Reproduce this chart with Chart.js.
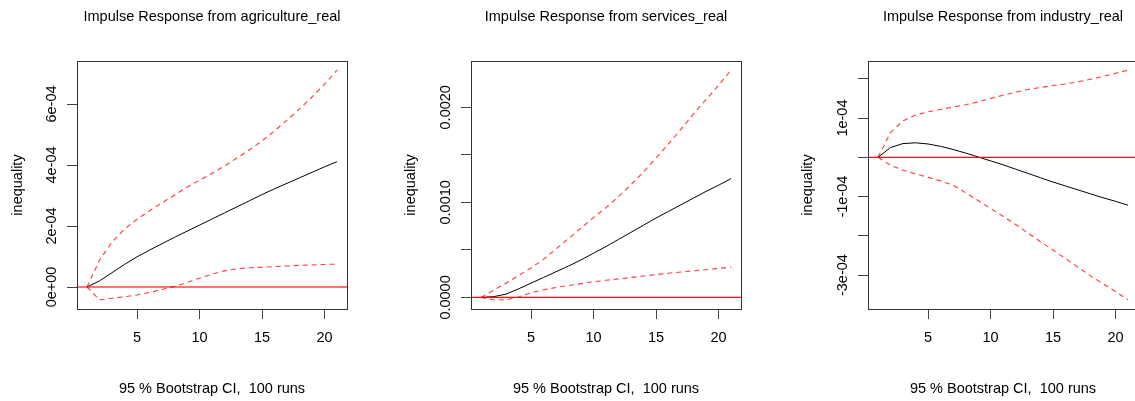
<!DOCTYPE html>
<html>
<head>
<meta charset="utf-8">
<script src="https://cdn.jsdelivr.net/npm/chart.js@4.4.1/dist/chart.umd.min.js"></script>
<style>
body { margin: 0; background: #fff; width: 1135px; height: 401px; overflow: hidden; position: relative; }
canvas { position: absolute; top: 0; }
</style>
</head>
<body>
<canvas id="agri" width="378" height="401" style="left:0px"></canvas>
<canvas id="serv" width="378" height="401" style="left:378px"></canvas>
<canvas id="ind" width="390" height="401" style="left:756px"></canvas>
<script>
var horizon = [1, 2, 3, 4, 5, 6, 7, 8, 9, 10, 11, 12, 13, 14, 15, 16, 17, 18, 19, 20, 21];
var xTicks = [5, 10, 15, 20];
var xRange = [0.2, 21.8];

var agriIrf = [0, 2.0e-5, 4.7e-5, 7.4e-5, 9.9e-5, 1.21e-4, 1.42e-4, 1.63e-4, 1.83e-4, 2.03e-4, 2.23e-4,
    2.43e-4, 2.63e-4, 2.83e-4, 3.03e-4, 3.22e-4, 3.40e-4, 3.58e-4, 3.76e-4, 3.94e-4, 4.11e-4];
var agriLower = [0, -4.2e-5, -3.7e-5, -3.2e-5, -2.6e-5, -1.8e-5, -8e-6, 2e-6, 1.5e-5, 2.9e-5, 4.2e-5,
    5.3e-5, 6.0e-5, 6.3e-5, 6.5e-5, 6.7e-5, 6.9e-5, 7.1e-5, 7.2e-5, 7.4e-5, 7.5e-5];
var agriUpper = [0, 8.8e-5, 1.47e-4, 1.90e-4, 2.22e-4, 2.50e-4, 2.76e-4, 3.02e-4, 3.27e-4, 3.50e-4, 3.73e-4,
    3.97e-4, 4.23e-4, 4.50e-4, 4.79e-4, 5.12e-4, 5.47e-4, 5.84e-4, 6.23e-4, 6.65e-4, 7.11e-4];
var agriTicks = [0, 0.0002, 0.0004, 0.0006];
var agriTickLabels = ['0e+00', '2e-04', '4e-04', '6e-04'];

var servIrf = [0, 8e-6, 3.5e-5, 9e-5, 1.5e-4, 2.1e-4, 2.7e-4, 3.3e-4, 3.95e-4, 4.65e-4, 5.35e-4,
    6.1e-4, 6.85e-4, 7.6e-4, 8.35e-4, 9.05e-4, 9.75e-4, 1.045e-3, 1.115e-3, 1.18e-3, 1.25e-3];
var servLower = [0, -2.5e-5, -2.5e-5, 5e-6, 5e-5, 8e-5, 1.05e-4, 1.25e-4, 1.45e-4, 1.65e-4, 1.8e-4,
    1.95e-4, 2.1e-4, 2.25e-4, 2.4e-4, 2.55e-4, 2.68e-4, 2.8e-4, 2.92e-4, 3.05e-4, 3.2e-4];
var servUpper = [0, 7.5e-5, 1.5e-4, 2.3e-4, 3.1e-4, 4.0e-4, 5.1e-4, 6.2e-4, 7.3e-4, 8.4e-4, 9.45e-4,
    1.06e-3, 1.185e-3, 1.32e-3, 1.465e-3, 1.615e-3, 1.77e-3, 1.93e-3, 2.08e-3, 2.23e-3, 2.39e-3];
var servTicks = [0, 0.0005, 0.001, 0.0015, 0.002];
var servTickLabels = ['0.0000', '', '0.0010', '', '0.0020'];

var indIrf = [0, 2.5e-5, 3.5e-5, 3.7e-5, 3.4e-5, 2.8e-5, 2.0e-5, 1.1e-5, 1e-6, -9e-6, -1.9e-5,
    -3.0e-5, -4.1e-5, -5.2e-5, -6.3e-5, -7.3e-5, -8.3e-5, -9.3e-5, -1.03e-4, -1.12e-4, -1.22e-4];
var indLower = [0, -2.0e-5, -3.3e-5, -4.2e-5, -5.1e-5, -6.0e-5, -7.1e-5, -9.0e-5, -1.1e-4, -1.3e-4, -1.5e-4,
    -1.71e-4, -1.93e-4, -2.15e-4, -2.36e-4, -2.58e-4, -2.80e-4, -3.02e-4, -3.22e-4, -3.42e-4, -3.63e-4];
var indUpper = [0, 6.3e-5, 9.3e-5, 1.08e-4, 1.16e-4, 1.22e-4, 1.28e-4, 1.34e-4, 1.41e-4, 1.50e-4, 1.58e-4,
    1.66e-4, 1.73e-4, 1.78e-4, 1.83e-4, 1.87e-4, 1.92e-4, 1.99e-4, 2.06e-4, 2.14e-4, 2.22e-4];
var indTicks = [-0.0003, -0.0002, -0.0001, 0, 0.0001, 0.0002];
var indTickLabels = ['-3e-04', '', '-1e-04', '', '1e-04', ''];

var fontFamily = '"Liberation Sans", Arial, Helvetica, sans-serif';
var fontSize = 14.5;

Chart.defaults.font.family = fontFamily;
Chart.defaults.font.size = fontSize;
Chart.defaults.color = '#000';

// box around the plot region and rotated y tick labels
function rFrame(ticks, labels) {
    return {
        id: 'rFrame',
        afterDraw: function (chart) {
            var a = chart.chartArea;
            var ctx = chart.ctx;
            var yScale = chart.scales.y;
            ctx.save();
            ctx.strokeStyle = '#333';
            ctx.lineWidth = 1;
            ctx.strokeRect(Math.round(a.left) + 0.5, Math.round(a.top) + 0.5,
                Math.round(a.right - a.left), Math.round(a.bottom - a.top));

            ctx.fillStyle = '#000';
            ctx.font = fontSize + 'px ' + fontFamily;
            ctx.textAlign = 'center';
            ctx.textBaseline = 'middle';
            for (var i = 0; i < ticks.length; i++) {
                if (!labels[i]) continue;
                ctx.save();
                ctx.translate(a.left - 25, yScale.getPixelForValue(ticks[i]));
                ctx.rotate(-Math.PI / 2);
                ctx.fillText(labels[i], 0, 0);
                ctx.restore();
            }
            ctx.restore();
        }
    };
}

function points(values) {
    return horizon.map(function (h, i) {
        return { x: h, y: values[i] };
    });
}

function makeChart(id, title, irf, lower, upper, ticks, labels, yWidth, padRight, yTitlePad, zeroColor, zeroWidth) {
    var all = irf.concat(lower, upper);
    var lo = Math.min.apply(null, all);
    var hi = Math.max.apply(null, all);
    var pad = (hi - lo) * 0.04;

    var band = {
        borderColor: '#ff3a3a',
        borderWidth: 1.1,
        borderDash: [5, 4],
        pointRadius: 0,
        tension: 0,
        fill: false,
        order: 2
    };

    return new Chart(document.getElementById(id).getContext('2d'), {
        type: 'line',
        data: {
            datasets: [
                {
                    data: [{ x: xRange[0], y: 0 }, { x: xRange[1], y: 0 }],
                    borderColor: zeroColor, borderWidth: zeroWidth,
                    pointRadius: 0, fill: false, order: 0
                },
                { data: points(irf), borderColor: '#000', borderWidth: 1, pointRadius: 0, tension: 0, fill: false, order: 1 },
                Object.assign({ data: points(lower) }, band),
                Object.assign({ data: points(upper) }, band)
            ]
        },
        options: {
            responsive: false,
            animation: false,
            devicePixelRatio: 1,
            layout: { padding: { left: 0, right: padRight, top: 0, bottom: 0 } },
            plugins: {
                legend: { display: false },
                tooltip: { enabled: false },
                title: {
                    display: true,
                    text: title,
                    fullSize: false,
                    color: '#000',
                    font: { size: fontSize, weight: 'normal' },
                    padding: { top: 8.3, bottom: 35.3 }
                }
            },
            scales: {
                x: {
                    type: 'linear',
                    min: xRange[0],
                    max: xRange[1],
                    bounds: 'data',
                    afterBuildTicks: function (s) {
                        s.ticks = xTicks.map(function (v) { return { value: v }; });
                    },
                    afterFit: function (s) { s.height = 92; },
                    grid: { drawOnChartArea: false, tickLength: 10, color: '#444' },
                    border: { display: false },
                    ticks: { padding: 10, maxRotation: 0, autoSkip: false, color: '#000' },
                    title: {
                        display: true,
                        text: '95 % Bootstrap CI,  100 runs',
                        color: '#000',
                        padding: { top: 0, bottom: 3.6 }
                    }
                },
                y: {
                    type: 'linear',
                    min: lo - pad,
                    max: hi + pad,
                    bounds: 'data',
                    afterBuildTicks: function (s) {
                        s.ticks = ticks.map(function (v) { return { value: v }; });
                    },
                    afterFit: function (s) { s.width = yWidth; },
                    grid: { drawOnChartArea: false, tickLength: 10, color: '#444' },
                    border: { display: false },
                    ticks: { display: false },
                    title: {
                        display: true,
                        text: 'inequality',
                        color: '#000',
                        padding: { top: yTitlePad, bottom: 0 }
                    }
                }
            }
        },
        plugins: [rFrame(ticks, labels)]
    });
}

var chart = makeChart('agri', 'Impulse Response from agriculture_real', agriIrf, agriLower, agriUpper,
    agriTicks, agriTickLabels, 77, 31, 9.3, 'rgba(255,0,0,0.55)', 2);
var chart1 = makeChart('serv', 'Impulse Response from services_real', servIrf, servLower, servUpper,
    servTicks, servTickLabels, 93, 15, 24.1, 'rgba(255,0,0,0.95)', 1.2);
var chart2 = makeChart('ind', 'Impulse Response from industry_real', indIrf, indLower, indUpper,
    indTicks, indTickLabels, 112, 8, 42.8, 'rgba(255,0,0,0.95)', 1.2);
</script>
</body>
</html>
